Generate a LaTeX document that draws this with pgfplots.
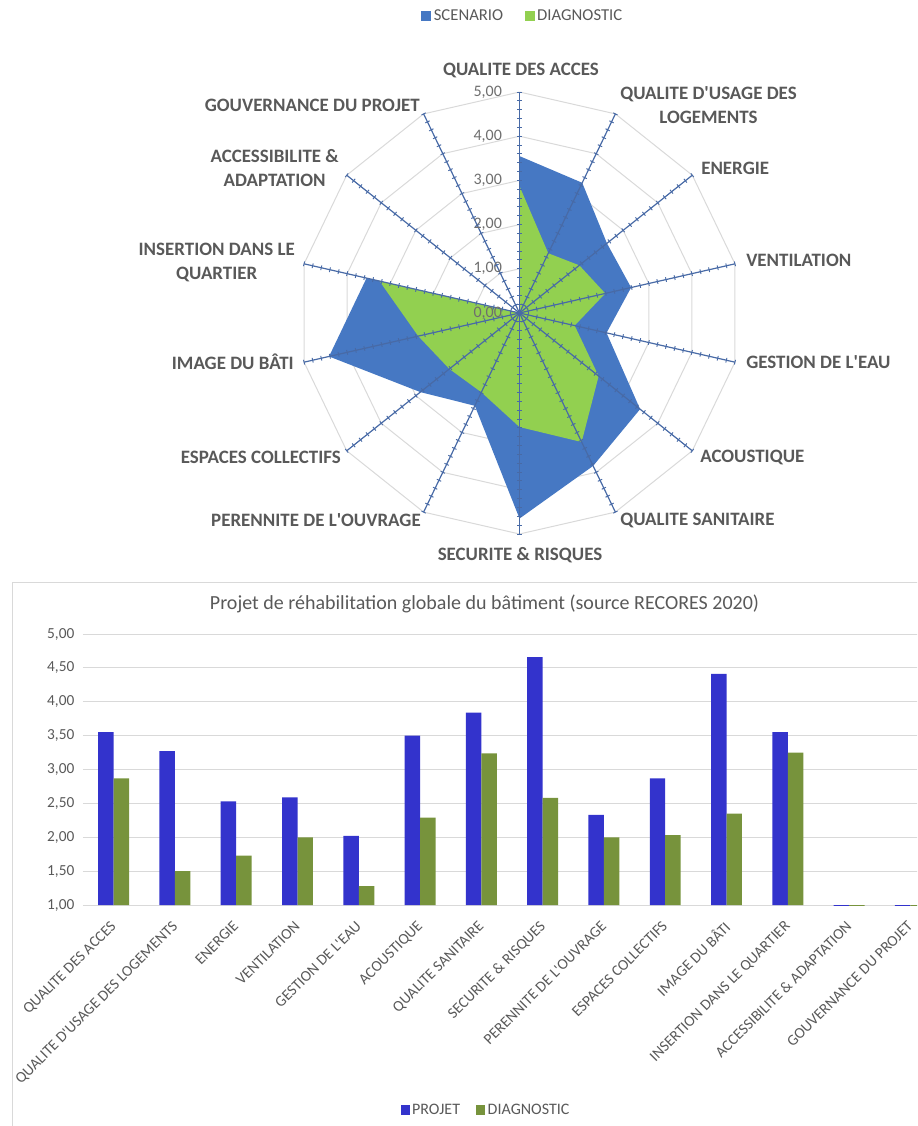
\documentclass[border=0pt]{standalone}
\usepackage{fontspec}
\setmainfont{Carlito}
\usepackage{pgfplots}
\pgfplotsset{compat=1.18}
\usepackage{pgfplotstable}
\usepgfplotslibrary{polar}

\definecolor{scen}{RGB}{70,120,195}
\definecolor{diagr}{RGB}{146,208,80}
\definecolor{spoke}{RGB}{72,106,166}
\definecolor{ringc}{RGB}{217,217,217}
\definecolor{txt}{RGB}{89,89,89}
\definecolor{numc}{RGB}{110,110,110}
\definecolor{projet}{RGB}{51,51,204}
\definecolor{diagb}{RGB}{119,147,60}
\newcommand{\ap}{\textquotesingle}

% radar: angle (deg), scenario, diagnostic (last row closes the polygon)
\pgfplotstableread{
a scen diag
90 3.55 2.87
64.2857 3.27 1.50
38.5714 2.53 1.73
12.8571 2.59 1.99
-12.8571 2.02 1.28
-38.5714 3.49 2.29
-64.2857 3.84 3.24
-90 4.65 2.58
-115.7143 2.33 1.99
-141.4286 2.87 2.03
-167.1429 4.42 2.35
-192.8571 3.55 3.25
-218.5714 0 0
-244.2857 0 0
-270 3.55 2.87
}\radar

\pgfplotstableread{
r
0
0.2
0.4
0.6
0.8
1
1.2
1.4
1.6
1.8
2
2.2
2.4
2.6
2.8
3
3.2
3.4
3.6
3.8
4
4.2
4.4
4.6
4.8
5
}\radii

\pgfplotstableread{
i projet diag
0 3.55 2.87
1 3.27 1.50
2 2.53 1.73
3 2.59 2.00
4 2.02 1.28
5 3.50 2.29
6 3.84 3.24
7 4.66 2.58
8 2.33 2.00
9 2.87 2.03
10 4.41 2.35
11 3.55 3.25
12 0 0
13 0 0
}\bars

\begin{document}
\begin{tikzpicture}
\path[use as bounding box] (0pt,0pt) rectangle (687.75pt,-844.5pt);
\clip (0pt,0pt) rectangle (687.75pt,-844.5pt);

% frame of lower chart
\draw[ringc, line width=0.75pt] (9pt,-436.5pt) rectangle (720pt,-870pt);

\begin{polaraxis}[
  at={(389.625pt,-234.75pt)}, anchor=origin,
  width=331.5pt, height=331.5pt, scale only axis,
  ymin=0, ymax=5, hide axis, clip=false,
  legend columns=-1,
  legend style={at={(0.508,1.172)}, anchor=center, draw=none, fill=none,
    font=\fontsize{12.5}{15}\selectfont, text=txt,
    /tikz/every even column/.append style={column sep=14pt}},
  legend image code/.code={\fill[#1] (0pt,-3.75pt) rectangle (7.5pt,3.75pt);},
]
\pgfplotsinvokeforeach{1,...,5}{
  \addplot[ringc, line width=0.75pt, forget plot] table[x=a, y expr=#1]{\radar};
}
\addplot[fill=scen, draw=none] table[x=a, y=scen]{\radar};
\addlegendentry{SCENARIO}
\addplot[fill=diagr, draw=none] table[x=a, y=diag]{\radar};
\addlegendentry{DIAGNOSTIC}
\pgfplotsinvokeforeach{0,...,13}{
  \addplot[spoke, line width=0.9pt, mark=|, mark size=1.8pt,
    mark options={rotate=90-#1*25.7142857, solid, line width=0.7pt}, forget plot]
    table[x expr={90-#1*25.7142857}, y=r]{\radii};
}
\pgfplotsinvokeforeach{0,...,5}{
  \node[anchor=east, xshift=-13pt, inner sep=0pt, text=numc,
    font=\fontsize{12}{14}\selectfont] at (axis cs:90,#1) {#1,00};
}
\end{polaraxis}

\begin{axis}[
  at={(62.25pt,-678.75pt)}, anchor=south west,
  width=643.5pt, height=203.25pt, scale only axis,
  ybar=0pt, bar width=11.6pt,
  xmin=-0.5, xmax=13.5, ymin=1, ymax=5,
  xtick={0,...,13},
  xticklabels={QUALITE DES ACCES, QUALITE D\ap USAGE DES LOGEMENTS, ENERGIE, VENTILATION, GESTION DE L\ap EAU, ACOUSTIQUE, QUALITE SANITAIRE, SECURITE \& RISQUES, PERENNITE DE L\ap OUVRAGE, ESPACES COLLECTIFS, IMAGE DU BÂTI, INSERTION DANS LE QUARTIER, ACCESSIBILITE \& ADAPTATION, GOUVERNANCE DU PROJET},
  ytick={1,1.5,2,2.5,3,3.5,4,4.5,5},
  ymajorgrids, grid style={ringc, line width=0.75pt},
  axis line style={draw=none}, major tick length=0pt,
  /pgf/number format/assume math mode=true,
  /pgf/number format/fixed, /pgf/number format/fixed zerofill,
  /pgf/number format/precision=2, /pgf/number format/use comma,
  tick label style={text=txt, font=\fontsize{11.5}{13}\selectfont},
  yticklabel style={xshift=-3pt},
  xticklabel style={xshift=-3pt, yshift=-11pt, rotate=45, anchor=north east, inner sep=0pt},
  title={Projet de réhabilitation globale du bâtiment (source RECORES 2020)},
  title style={at={(axis description cs:0.468,1.08)}, anchor=center,
    font=\fontsize{15}{18}\selectfont, text=txt},
  legend columns=-1,
  legend style={at={(0.47,-0.756)}, anchor=center, draw=none, fill=none,
    font=\fontsize{12}{14}\selectfont, text=txt,
    /tikz/every even column/.append style={column sep=10pt}},
  legend image code/.code={\fill[#1] (0pt,-3.75pt) rectangle (6.75pt,3.75pt);},
]
\addplot[fill=projet, draw=none] table[x=i, y=projet]{\bars};
\addlegendentry{PROJET}
\addplot[fill=diagb, draw=none] table[x=i, y=diag]{\bars};
\addlegendentry{DIAGNOSTIC}
\end{axis}

\begin{scope}[x=0.75pt, y=-0.75pt, every node/.style={inner sep=0pt, align=center, text=txt,
    font=\bfseries\fontsize{14.2}{18}\selectfont}]
\node[anchor=center] at (521,70) {QUALITE DES ACCES};
\node[anchor=west] at (620,105) {QUALITE D\ap USAGE DES\\LOGEMENTS};
\node[anchor=west] at (701,168) {ENERGIE};
\node[anchor=west] at (746,260) {VENTILATION};
\node[anchor=west] at (746,362) {GESTION DE L\ap EAU};
\node[anchor=west] at (700,457) {ACOUSTIQUE};
\node[anchor=west] at (620,520) {QUALITE SANITAIRE};
\node[anchor=center] at (520,555) {SECURITE \& RISQUES};
\node[anchor=east] at (421,520) {PERENNITE DE L\ap OUVRAGE};
\node[anchor=east] at (341,457) {ESPACES COLLECTIFS};
\node[anchor=east] at (294,362) {IMAGE DU BÂTI};
\node[anchor=east] at (295,262) {INSERTION DANS LE\\QUARTIER};
\node[anchor=east] at (339,168) {ACCESSIBILITE \&\\ADAPTATION};
\node[anchor=east] at (420,105) {GOUVERNANCE DU PROJET};
\end{scope}
\end{tikzpicture}
\end{document}
